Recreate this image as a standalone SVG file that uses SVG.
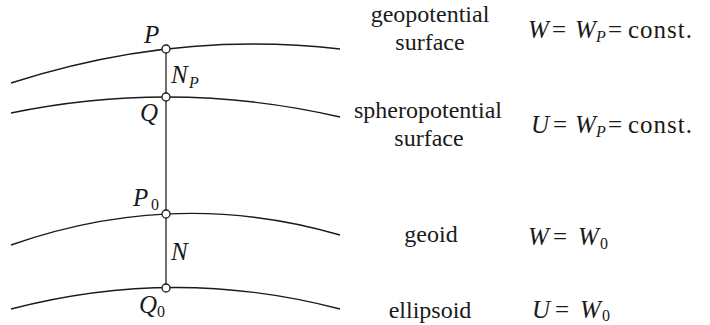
<svg xmlns="http://www.w3.org/2000/svg" width="710" height="325" viewBox="0 0 710 325">
<style>
.curve{fill:none;stroke:#1a1a1a;stroke-width:1.4}
.vert{stroke:#333;stroke-width:1.4}
.pt{fill:#fff;stroke:#1a1a1a;stroke-width:1.3}
text{font-family:"Liberation Serif","Times New Roman",serif;fill:#1a1a1a}
.txt{font-size:24px;text-anchor:middle}
.m{font-size:25px;font-style:italic}
.r{font-size:25px}
.c{font-size:25px;letter-spacing:1px}
.sub{font-size:16px}
.subi{font-size:16px;font-style:italic}
</style>
<g id="surfaces">
<path id="geopotential-curve" class="curve" d="M11,83 Q175.5,29.9 340,49"/>
<path id="spheropotential-curve" class="curve" d="M11,113 Q175.5,79.1 340,117"/>
<path id="geoid-curve" class="curve" d="M11,245 Q175.5,187.2 340,235"/>
<path id="ellipsoid-curve" class="curve" d="M11,309 Q175.5,265.9 340,309"/>
</g>
<g id="connectors">
<line class="vert" x1="166" y1="49" x2="166" y2="288"/>
</g>
<g id="P"><circle class="pt" cx="166" cy="49" r="4"/><text class="m" x="144" y="43">P</text></g>
<g id="Q"><circle class="pt" cx="166" cy="97" r="4"/><text class="m" x="140" y="121">Q</text></g>
<g id="P0"><circle class="pt" cx="166" cy="214" r="4"/><text class="m" x="133" y="206">P</text><text class="sub" x="151" y="210">0</text></g>
<g id="Q0"><circle class="pt" cx="166" cy="288" r="4"/><text class="m" x="139" y="313">Q</text><text class="sub" x="157" y="317">0</text></g>
<g id="NP"><text class="m" x="171" y="83">N</text><text class="subi" x="189" y="88">P</text></g>
<g id="N"><text class="m" x="171" y="260">N</text></g>
<g id="geopotential-label">
<text class="txt" x="430" y="22">geopotential</text>
<text class="txt" x="430" y="50">surface</text>
<text class="m" x="528" y="38">W</text><text class="r" x="552" y="38">=</text>
<text class="m" x="575" y="38">W</text><text class="subi" x="596" y="42">P</text><text class="r" x="608" y="38">=</text><text class="c" x="628" y="38">const.</text>
</g>
<g id="spheropotential-label">
<text class="txt" x="428" y="118">spheropotential</text>
<text class="txt" x="429" y="146">surface</text>
<text class="m" x="531" y="133">U</text><text class="r" x="553" y="133">=</text>
<text class="m" x="575" y="133">W</text><text class="subi" x="596" y="137">P</text><text class="r" x="608" y="133">=</text><text class="c" x="628" y="133">const.</text>
</g>
<g id="geoid-label">
<text class="txt" x="431" y="242">geoid</text>
<text class="m" x="528" y="245">W</text><text class="r" x="553" y="245">=</text>
<text class="m" x="578" y="245">W</text><text class="sub" x="600" y="249">0</text>
</g>
<g id="ellipsoid-label">
<text class="txt" x="430" y="318">ellipsoid</text>
<text class="m" x="532" y="318">U</text><text class="r" x="555" y="318">=</text>
<text class="m" x="580" y="318">W</text><text class="sub" x="602" y="321">0</text>
</g>
</svg>
